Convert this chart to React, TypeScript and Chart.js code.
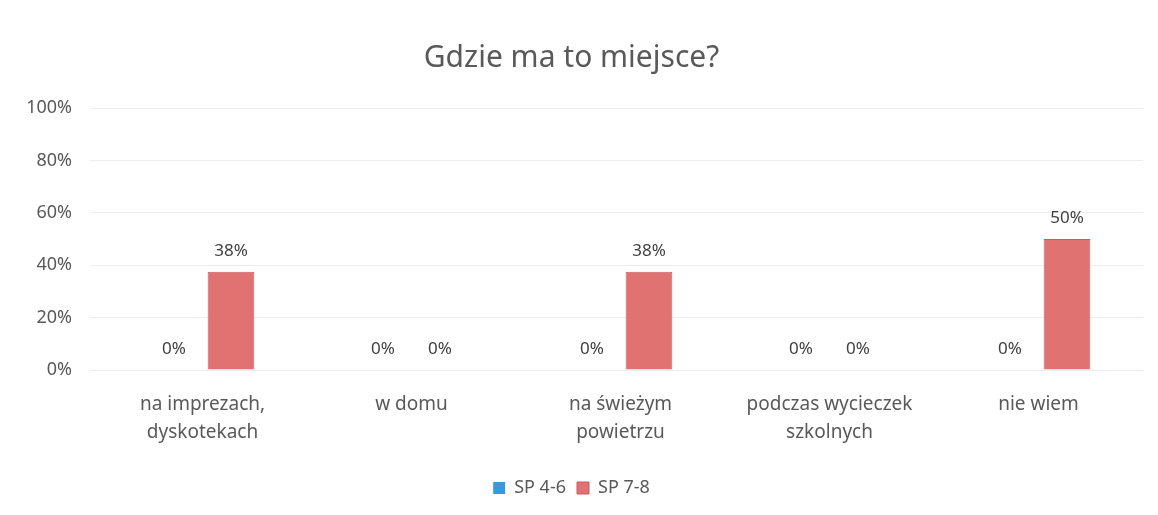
import React, { useEffect, useRef } from "react";
import { Chart, registerables } from "chart.js";

Chart.register(...registerables);

const categories: string[][] = [
  ["na imprezach,", "dyskotekach"],
  ["w domu"],
  ["na świeżym", "powietrzu"],
  ["podczas wycieczek", "szkolnych"],
  ["nie wiem"],
];
const sp46: number[] = [0, 0, 0, 0, 0];
const sp78: number[] = [0.375, 0, 0.375, 0, 0.5];
const seriesNames = ["SP 4-6", "SP 7-8"];
const yTicks = [0, 0.2, 0.4, 0.6, 0.8, 1];
const title = "Gdzie ma to miejsce?";

const FONT = "'Noto Sans', 'Open Sans', sans-serif";

const valueLabels = {
  id: "valueLabels",
  afterDatasetsDraw(chart: any) {
    const ctx = chart.ctx;
    ctx.save();
    ctx.font = `17px ${FONT}`;
    ctx.fillStyle = "#404040";
    ctx.textAlign = "center";
    ctx.textBaseline = "middle";
    chart.data.datasets.forEach((ds: any, i: number) => {
      const meta = chart.getDatasetMeta(i);
      meta.data.forEach((bar: any, j: number) => {
        const v = ds.data[j];
        ctx.fillText(Math.round(v * 100) + "%", bar.x, bar.y - 21);
      });
    });
    ctx.restore();
  },
};

export default function App() {
  const ref = useRef<HTMLCanvasElement>(null);
  useEffect(() => {
    document.body.style.margin = "0";
    const chart = new Chart(ref.current!, {
      type: "bar",
      data: {
        labels: categories,
        datasets: [
          {
            label: seriesNames[0],
            data: sp46,
            backgroundColor: "#3a9ad9",
            borderColor: "#2f86c0",
            borderWidth: 0,
            categoryPercentage: 0.545,
            barPercentage: 0.82,
          },
          {
            label: seriesNames[1],
            data: sp78,
            backgroundColor: "#e07272",
            borderColor: "#c85c5c",
            borderWidth: 1,
            categoryPercentage: 0.545,
            barPercentage: 0.82,
          },
        ],
      },
      options: {
        animation: false,
        responsive: false,
        layout: { padding: { left: 0, right: 15, top: 0, bottom: 8 } },
        plugins: {
          title: {
            display: true,
            text: title,
            color: "#595959",
            font: { family: FONT, size: 30, weight: "normal" },
            padding: { top: 40, bottom: 32 },
          },
          legend: {
            position: "bottom",
            labels: {
              color: "#595959",
              font: { family: FONT, size: 18 },
              boxWidth: 12,
              boxHeight: 12,
              padding: 11,
            },
          },
          tooltip: { enabled: false },
        },
        scales: {
          x: {
            grid: { display: false },
            border: { display: false },
            ticks: {
              color: "#595959",
              font: { family: FONT, size: 19, lineHeight: 1.45 },
              maxRotation: 0,
              padding: 13,
            },
            afterFit: (s: any) => {
              s.height = 98;
            },
          },
          y: {
            min: 0,
            max: 1,
            afterBuildTicks: (s: any) => {
              s.ticks = yTicks.map((v) => ({ value: v }));
            },
            grid: { color: "#ededed" },
            border: { display: false },
            ticks: {
              color: "#595959",
              font: { family: FONT, size: 18 },
              padding: 18,
              callback: (v: any) => Math.round(Number(v) * 100) + "%",
            },
            afterFit: (s: any) => {
              s.width = 98;
            },
          },
        },
      },
      plugins: [valueLabels],
    });
    return () => chart.destroy();
  }, []);
  return (
    <div style={{ width: 1158, height: 515, background: "#fff" }}>
      <canvas ref={ref} width={1158} height={515} />
    </div>
  );
}
